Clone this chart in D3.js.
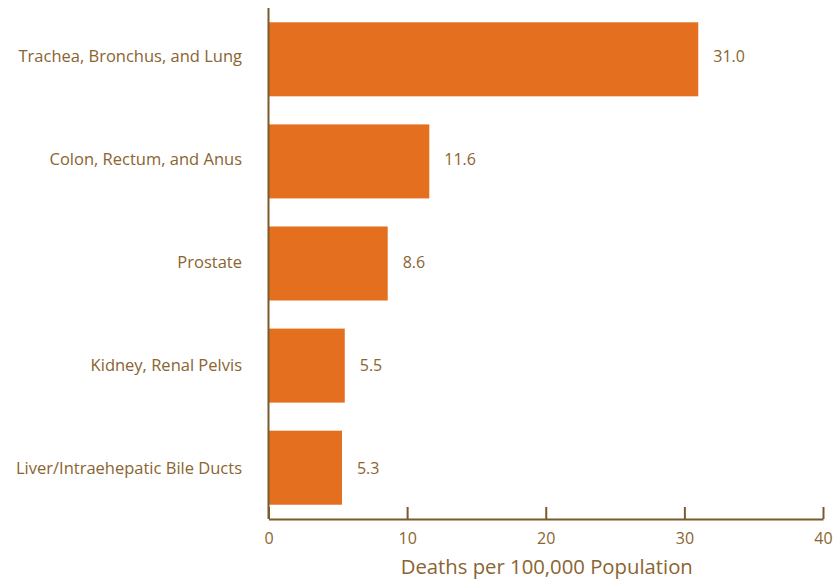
<!DOCTYPE html>
<html>
<head>
<meta charset="utf-8">
<script src="https://cdn.jsdelivr.net/npm/d3@7"></script>
<style>
  body { margin: 0; background: #fff; }
  text { font-family: "Open Sans", "Noto Sans", sans-serif; }
</style>
</head>
<body>
<svg id="chart" width="840" height="582"></svg>
<script>
const categories = [
  'Trachea, Bronchus, and Lung',
  'Colon, Rectum, and Anus',
  'Prostate',
  'Kidney, Renal Pelvis',
  'Liver/Intraehepatic Bile Ducts'
]
const values = [31.0, 11.6, 8.6, 5.5, 5.3]
const xTicks = [0, 10, 20, 30, 40]
const xTitle = 'Deaths per 100,000 Population'

const barColor = '#e36f1f'
const textColor = '#8a6431'
const axisColor = '#7b5a2b'

const svg = d3.select('#chart')
const data = categories.map((c, i) => ({ name: c, value: values[i] }))

const x = d3.scaleLinear().domain([0, 40]).range([268.5, 823])
const y = d3.scaleBand().domain(categories).range([8, 519])
  .paddingInner(0.275).paddingOuter(0.14)
// label baselines drift slightly lower than bar centres in the original
const yLabel = d3.scalePoint().domain(categories).range([62, 474])

// bars
svg.append('g').selectAll('rect')
  .data(data)
  .enter().append('rect')
  .attr('x', x(0))
  .attr('y', d => y(d.name))
  .attr('width', d => x(d.value) - x(0))
  .attr('height', y.bandwidth())
  .attr('fill', barColor)

// value labels
svg.append('g').selectAll('text')
  .data(data)
  .enter().append('text')
  .attr('x', d => x(d.value) + 15)
  .attr('y', d => yLabel(d.name))
  .attr('font-size', 16)
  .attr('fill', textColor)
  .text(d => d.value.toFixed(1))

// category labels
svg.append('g').selectAll('text')
  .data(data)
  .enter().append('text')
  .attr('x', 242)
  .attr('y', d => yLabel(d.name))
  .attr('text-anchor', 'end')
  .attr('font-size', 16.5)
  .attr('fill', textColor)
  .text(d => d.name)

// y axis line
svg.append('line')
  .attr('x1', x(0)).attr('x2', x(0))
  .attr('y1', 8).attr('y2', 519)
  .attr('stroke', axisColor).attr('stroke-width', 2)

// x axis
const xAxis = svg.append('g')
  .attr('transform', 'translate(0,519)')
  .call(d3.axisBottom(x).tickValues(xTicks).tickSizeInner(-12).tickSizeOuter(0).tickPadding(14))
xAxis.select('.domain').attr('stroke', axisColor).attr('stroke-width', 2)
xAxis.selectAll('.tick line').attr('stroke', axisColor).attr('stroke-width', 2)
xAxis.selectAll('.tick text')
  .attr('fill', textColor)
  .attr('font-size', 16)
  .attr('font-family', '"Open Sans", "Noto Sans", sans-serif')

// axis title
svg.append('text')
  .attr('x', (x(0) + x(40)) / 2 + 1)
  .attr('y', 574)
  .attr('text-anchor', 'middle')
  .attr('font-size', 20.3)
  .attr('fill', textColor)
  .text(xTitle)
</script>
</body>
</html>
